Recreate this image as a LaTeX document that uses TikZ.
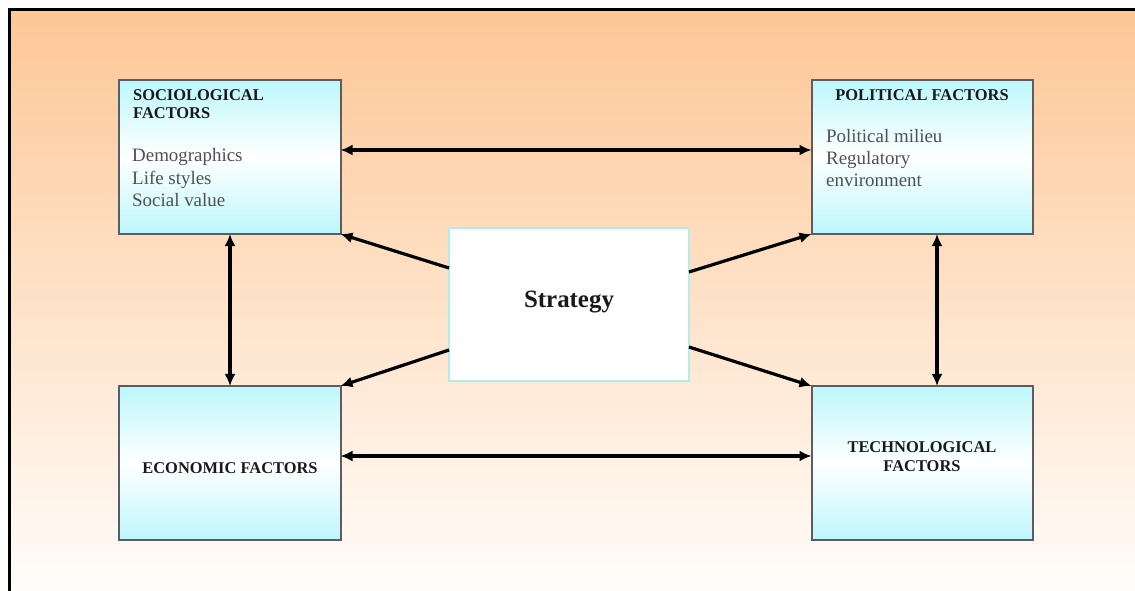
\documentclass[tikz,border=0pt]{standalone}
\usepackage{fontspec}
\setmainfont{Liberation Serif}
\usetikzlibrary{arrows.meta,calc}
\definecolor{bgtop}{RGB}{253,199,150}
\definecolor{bgbot}{RGB}{255,253,251}
\definecolor{boxcyan}{RGB}{188,247,252}
\definecolor{boxline}{RGB}{88,94,100}
\definecolor{strline}{RGB}{176,238,236}
\definecolor{bodytext}{RGB}{80,80,80}
\definecolor{titletext}{RGB}{25,25,25}
\tikzset{
  factor/.style={draw=boxline, line width=2bp, top color=boxcyan, bottom color=boxcyan, middle color=white,
    minimum width=221bp, minimum height=154bp, inner sep=0pt, outer sep=0pt},
  strat/.style={draw=strline, line width=1.2bp, fill=white, minimum width=240bp, minimum height=153bp,
    inner sep=0pt, outer sep=0pt},
  ttl/.style={text=titletext, font=\fontsize{16.5}{19}\selectfont\bfseries, inner sep=0pt},
  body/.style={text=bodytext, font=\fontsize{19}{22}\selectfont, inner sep=0pt, anchor=base west},
  link/.style={line width=3.2bp, black, {Latex[length=12bp,width=11bp]}-{Latex[length=12bp,width=11bp]}},
  flow/.style={line width=3.2bp, black, -{Latex[length=12bp,width=11bp]}}
}
\begin{document}
\begin{tikzpicture}[x=1bp,y=-1bp]
\useasboundingbox (0,0) rectangle (1135,591);
% background
\shade[top color=bgtop, bottom color=bgbot] (10,10) rectangle (1135,591);
\draw[line width=3bp, black] (9.5,591) -- (9.5,9.5) -- (1135,9.5);

% boxes
\node[factor] (soc) at (230,157) {};
\node[factor] (pol) at (922,157) {};
\node[factor] (eco) at (230,463) {};
\node[factor] (tec) at (922,463) {};
\node[strat] (str) at (569,304.5) {};

% texts
\node[ttl, anchor=base west] (socT1) at (133,101) {SOCIOLOGICAL};
\node[ttl, anchor=base west] (socT2) at (133,119) {FACTORS};
\node[body] (socB1) at (132,162) {Demographics};
\node[body] (socB2) at (132,185) {Life styles};
\node[body] (socB3) at (132,207) {Social value};

\node[ttl, anchor=base] (polT) at (922,101) {POLITICAL FACTORS};
\node[body] (polB1) at (826,143) {Political milieu};
\node[body] (polB2) at (826,165) {Regulatory};
\node[body] (polB3) at (826,187) {environment};

\node[ttl, anchor=base] (ecoT) at (230,473) {ECONOMIC FACTORS};

\node[ttl, anchor=base] (tecT1) at (922,452) {TECHNOLOGICAL};
\node[ttl, anchor=base] (tecT2) at (922,471) {FACTORS};

\node[text=titletext, font=\fontsize{25}{28}\selectfont\bfseries, inner sep=0pt, anchor=base] (strT) at (569,308) {Strategy};

% links between factors
\draw[link] ([yshift=7bp]soc.east) -- ([yshift=7bp]pol.west);
\draw[link] ([yshift=7bp]eco.east) -- ([yshift=7bp]tec.west);
\draw[link] (soc.south) -- (eco.north);
\draw[link] ([xshift=15bp]pol.south) -- ([xshift=15bp]tec.north);

% strategy to factors
\draw[flow] ([yshift=-40bp]str.north west) -- (soc.south east);
\draw[flow] ([yshift=-44bp]str.north east) -- (pol.south west);
\draw[flow] ([yshift=31bp]str.south west) -- (eco.north east);
\draw[flow] ([yshift=34bp]str.south east) -- (tec.north west);
\end{tikzpicture}
\end{document}
